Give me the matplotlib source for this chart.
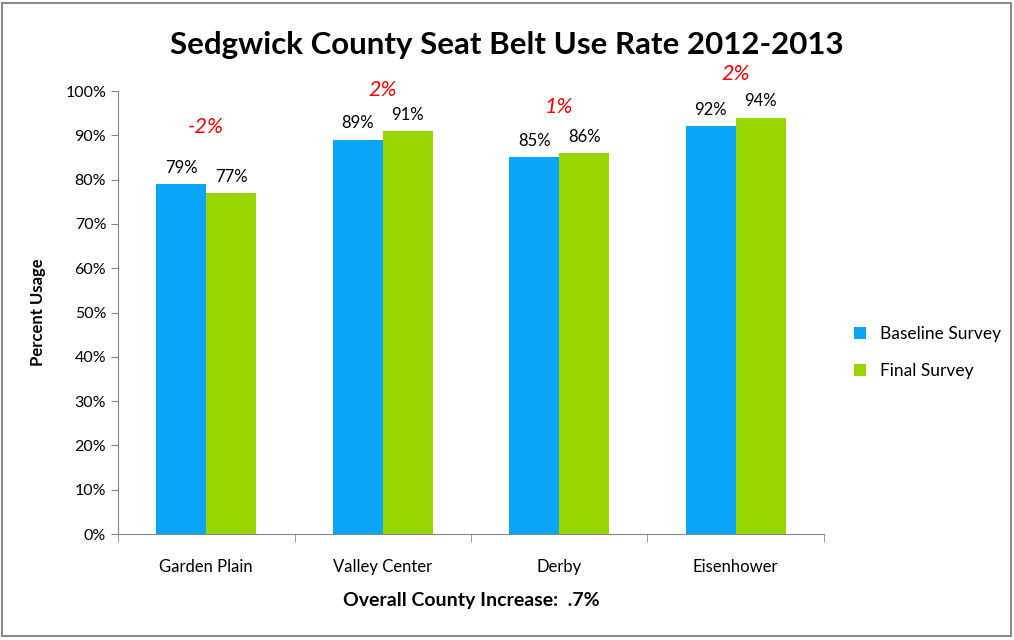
import numpy as np
import matplotlib
matplotlib.use("Agg")
from matplotlib import pyplot as plt
from matplotlib.patches import Rectangle

# data
sites = ["Garden Plain", "Valley Center", "Derby", "Eisenhower"]
baseline = [79, 89, 85, 92]
final = [77, 91, 86, 94]
change = ["-2%", "2%", "1%", "2%"]
yticks = [0, 10, 20, 30, 40, 50, 60, 70, 80, 90, 100]

plt.rcParams['font.family'] = ['Lato', 'DejaVu Sans']

fig = plt.figure(figsize=(10.14, 6.4), dpi=100)
fig.patches.append(Rectangle((0.002, 0.006), 0.995, 0.99, transform=fig.transFigure,
                             fill=False, edgecolor="#8c8c8c", linewidth=1.5))
ax = fig.add_axes([0.1164, 0.1656, 0.6962, 0.6922])

x = np.arange(len(sites))
w = 0.283
blue = "#0ba5f7"
green = "#99d600"
ax.bar(x - w / 2, baseline, w, color=blue, label="Baseline Survey")
ax.bar(x + w / 2, final, w, color=green, label="Final Survey")

for i in range(len(sites)):
    ax.annotate(f"{baseline[i]}%", (x[i] - w / 2, baseline[i]), xytext=(0, 6),
                textcoords="offset points", ha="center", va="bottom", fontsize=12)
    ax.annotate(f"{final[i]}%", (x[i] + w / 2, final[i]), xytext=(0, 6),
                textcoords="offset points", ha="center", va="bottom", fontsize=12)

# change labels above each group
dy = [34, 22, 26, 24]
for i in range(len(sites)):
    top = max(baseline[i], final[i])
    ax.annotate(change[i], (x[i], top), xytext=(0, dy[i]), textcoords="offset points",
                ha="center", va="bottom", fontsize=15.5, color="red", style="italic",
                annotation_clip=False)

ax.set_xlim(-0.5, len(sites) - 0.5)
ax.set_ylim(0, 100)
ax.set_yticks(yticks)
ax.set_yticklabels([f"{t}%" for t in yticks], fontsize=11.5)
ax.set_xticks(x)
ax.set_xticklabels(sites, fontsize=12)
ax.tick_params(axis="x", length=0, pad=18)
ax.set_xticks(np.arange(-0.5, len(sites)), minor=True)
ax.tick_params(axis="x", which="minor", length=6, color="#868686", direction="out")
ax.tick_params(axis="y", length=5, color="#868686", direction="out")

for s in ["top", "right"]:
    ax.spines[s].set_visible(False)
for s in ["left", "bottom"]:
    ax.spines[s].set_color("#868686")

ax.set_ylabel("Percent Usage", fontsize=12, fontweight="bold", labelpad=14)
ax.set_xlabel("Overall County Increase:  .7%", fontsize=14, fontweight="bold", labelpad=12)
fig.text(0.5, 0.93, "Sedgwick County Seat Belt Use Rate 2012-2013", ha="center",
         va="center", fontsize=22.5, fontweight="bold")

ax.legend(loc="center left", bbox_to_anchor=(1.02, 0.41), frameon=False, fontsize=12.5,
          handlelength=0.7, handleheight=0.7, labelspacing=1.2)

fig.savefig("out.png", dpi=100)
